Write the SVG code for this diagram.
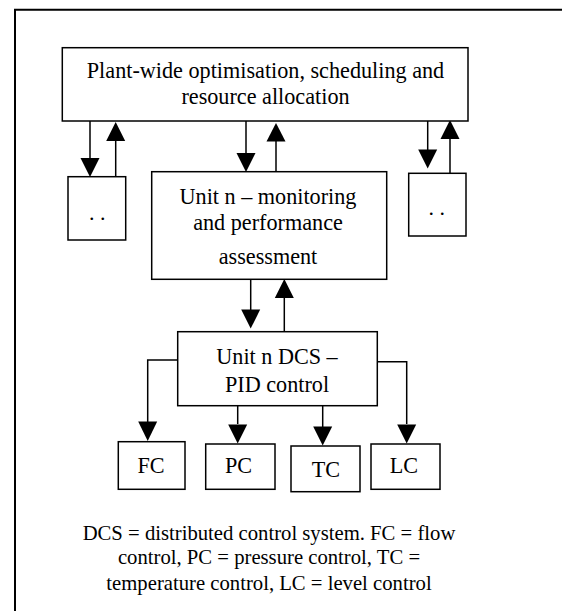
<svg xmlns="http://www.w3.org/2000/svg" width="562" height="611" viewBox="0 0 562 611">
<defs>
<style>
.box{fill:#fff;stroke:#000;stroke-width:1.5}
.t{font-family:"Liberation Serif","Times New Roman",serif;font-size:22.2px;fill:#000;text-anchor:middle}
.c{font-family:"Liberation Serif","Times New Roman",serif;font-size:20.7px;fill:#000;text-anchor:middle}
.d{font-family:"Liberation Serif","Times New Roman",serif;font-size:22px;fill:#000;letter-spacing:5.5px}
.ln{fill:none;stroke:#000;stroke-width:1.5}
.ah{fill:#000;stroke:none}
</style>
</defs>
<rect width="562" height="611" fill="#fff"/>
<path d="M15,620 V9.7 H570" fill="none" stroke="#000" stroke-width="2"/>
<g id="connectors">
<path class="ln" d="M90,121 V160"/><path class="ah" d="M80.5,158 H99.5 L90,177 Z"/>
<path class="ln" d="M115.7,177 V139"/><path class="ah" d="M106.2,141 H125.2 L115.7,122 Z"/>
<path class="ln" d="M246,121 V155"/><path class="ah" d="M236.5,153 H255.5 L246,172 Z"/>
<path class="ln" d="M276,172 V139"/><path class="ah" d="M266.5,141.5 H285.5 L276,123 Z"/>
<path class="ln" d="M427.7,121 V152"/><path class="ah" d="M418.2,149.5 H437.2 L427.7,168.5 Z"/>
<path class="ln" d="M450,173.5 V136"/><path class="ah" d="M440.5,139 H459.5 L450,120 Z"/>
<path class="ln" d="M250.7,279 V312"/><path class="ah" d="M241.2,309.5 H260.2 L250.7,328.5 Z"/>
<path class="ln" d="M284.3,332 V295"/><path class="ah" d="M274.8,298 H293.8 L284.3,279 Z"/>
<path class="ln" d="M178,360 H147.7 V424"/><path class="ah" d="M138.2,421.5 H157.2 L147.7,441 Z"/>
<path class="ln" d="M237.7,406 V424"/><path class="ah" d="M228.2,424.5 H247.2 L237.7,443.5 Z"/>
<path class="ln" d="M322.7,406 V428"/><path class="ah" d="M313.2,426.5 H332.2 L322.7,445.5 Z"/>
<path class="ln" d="M377,361.7 H406.7 V424"/><path class="ah" d="M397.2,424.5 H416.2 L406.7,443.5 Z"/>
</g>
<g id="plant">
<rect class="box" x="62.3" y="47.7" width="405.7" height="73.3"/>
<text class="t" x="265.5" y="78">Plant-wide optimisation, scheduling and</text>
<text class="t" x="265.5" y="104">resource allocation</text>
</g>
<g id="unit-left">
<rect class="box" x="68" y="176.7" width="57.7" height="63.3"/>
<text class="d" x="89" y="220">..</text>
</g>
<g id="unit-n">
<rect class="box" x="151.7" y="171.7" width="235" height="107.6"/>
<text class="t" x="268" y="204">Unit n – monitoring</text>
<text class="t" x="268" y="230">and performance</text>
<text class="t" x="268" y="263.5">assessment</text>
</g>
<g id="unit-right">
<rect class="box" x="408.7" y="173.3" width="57.3" height="62.7"/>
<text class="d" x="428.5" y="215">..</text>
</g>
<g id="dcs">
<rect class="box" x="177.7" y="331.7" width="199.6" height="74"/>
<text class="t" x="277" y="364">Unit n DCS –</text>
<text class="t" x="277" y="391.5">PID control</text>
</g>
<g id="fc">
<rect class="box" x="118.3" y="441.7" width="66.7" height="47.6"/>
<text class="t" x="151" y="473.3">FC</text>
</g>
<g id="pc">
<rect class="box" x="205.7" y="444" width="69.3" height="45.3"/>
<text class="t" x="238.5" y="473">PC</text>
</g>
<g id="tc">
<rect class="box" x="291" y="446" width="69" height="45.7"/>
<text class="t" x="326" y="476.7">TC</text>
</g>
<g id="lc">
<rect class="box" x="371" y="444" width="69" height="45.3"/>
<text class="t" x="404" y="473.3">LC</text>
</g>
<g id="caption">
<text class="c" x="269" y="540">DCS = distributed control system. FC = flow</text>
<text class="c" x="269" y="564">control, PC = pressure control, TC =</text>
<text class="c" x="269" y="590">temperature control, LC = level control</text>
</g>
</svg>
